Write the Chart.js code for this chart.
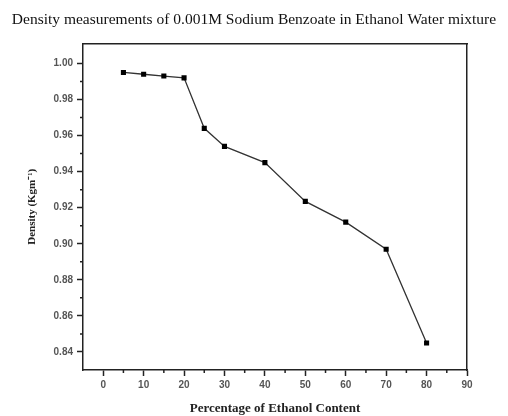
<!DOCTYPE html>
<html>
<head>
<meta charset="utf-8">
<script src="https://cdn.jsdelivr.net/npm/chart.js@4.4.0/dist/chart.umd.min.js"></script>
<style>
    body { margin: 0; background: #fff; }
    #wrap { width: 508px; height: 416px; }
</style>
</head>
<body>
<div id="wrap"><canvas id="graficoDensidad"></canvas></div>
<script>
// datos
const etanol = [5, 10, 15, 20, 25, 30, 40, 50, 60, 70, 80];
const densidad = [0.995, 0.994, 0.993, 0.992, 0.964, 0.954, 0.945, 0.9235, 0.912, 0.897, 0.845];
const xTicks = [0, 10, 20, 30, 40, 50, 60, 70, 80, 90];
const yTicks = [0.84, 0.86, 0.88, 0.90, 0.92, 0.94, 0.96, 0.98, 1.00];
const xMinor = [5, 15, 25, 35, 45, 55, 65, 75, 85];
const yMinor = [0.85, 0.87, 0.89, 0.91, 0.93, 0.95, 0.97, 0.99];

// ticks menores, hacia fuera
const ticksMenores = {
    id: 'ticksMenores',
    afterDraw(chart) {
        const ctx = chart.ctx;
        const x = chart.scales.x, y = chart.scales.y;
        ctx.save();
        ctx.strokeStyle = '#222';
        ctx.lineWidth = 1.5;
        ctx.beginPath();
        xMinor.forEach(v => {
            const px = x.getPixelForValue(v);
            ctx.moveTo(px, y.bottom);
            ctx.lineTo(px, y.bottom + 3);
        });
        yMinor.forEach(v => {
            const py = y.getPixelForValue(v);
            ctx.moveTo(x.left, py);
            ctx.lineTo(x.left - 3, py);
        });
        ctx.stroke();
        ctx.restore();
    }
};

const fuenteTicks = { family: 'Liberation Sans', size: 10, weight: 'bold' };

new Chart(document.getElementById('graficoDensidad'), {
    type: 'scatter',
    data: {
        datasets: [{
            data: etanol.map((e, i) => ({ x: e, y: densidad[i] })),
            showLine: true,
            borderColor: '#333',
            borderWidth: 1.3,
            backgroundColor: '#000',
            pointStyle: 'rect',
            pointRadius: 3.6,
            pointBorderWidth: 0,
            pointHoverRadius: 3.6
        }]
    },
    options: {
        responsive: true,
        maintainAspectRatio: false,
        animation: false,
        layout: { padding: 0 },
        plugins: {
            legend: { display: false },
            tooltip: { enabled: false },
            title: {
                display: true,
                text: 'Density measurements of 0.001M Sodium Benzoate in Ethanol Water mixture',
                color: '#111',
                font: { family: 'Liberation Serif', size: 15.5, weight: 'normal' },
                padding: { top: 11, bottom: 14 }
            }
        },
        scales: {
            x: {
                type: 'linear',
                min: -5,
                max: 90,
                afterBuildTicks: s => { s.ticks = xTicks.map(v => ({ value: v })); },
                afterFit: s => { s.height = 46; },
                ticks: { color: '#555', font: fuenteTicks, padding: 3, maxRotation: 0 },
                grid: { drawOnChartArea: false, tickLength: 6, tickWidth: 1.5, tickColor: '#222' },
                border: { color: '#222', width: 1.5 },
                title: {
                    display: true,
                    text: 'Percentage of Ethanol Content',
                    color: '#222',
                    font: { family: 'Liberation Serif', size: 13, weight: 'bold' },
                    padding: { top: 0, bottom: 0 }
                }
            },
            y: {
                min: 0.83,
                max: 1.011,
                afterBuildTicks: s => { s.ticks = yTicks.map(v => ({ value: v })); },
                afterFit: s => { s.width = 83; },
                ticks: { color: '#555', font: fuenteTicks, padding: 4, callback: v => v.toFixed(2) },
                grid: { drawOnChartArea: false, tickLength: 6, tickWidth: 1.5, tickColor: '#222' },
                border: { color: '#222', width: 1.5 },
                title: {
                    display: true,
                    text: 'Density (Kgm⁻¹)',
                    color: '#222',
                    font: { family: 'Liberation Serif', size: 11, weight: 'bold' },
                    padding: { top: 26, bottom: 0 }
                }
            },
            x2: {
                type: 'linear',
                position: 'top',
                afterFit: s => { s.height = 0; },
                ticks: { display: false },
                grid: { drawOnChartArea: false, drawTicks: false },
                border: { color: '#222', width: 1.5 }
            },
            y2: {
                type: 'linear',
                position: 'right',
                afterFit: s => { s.width = 41; },
                ticks: { display: false },
                grid: { drawOnChartArea: false, drawTicks: false },
                border: { color: '#222', width: 1.5 }
            }
        }
    },
    plugins: [ticksMenores]
});
</script>
</body>
</html>
